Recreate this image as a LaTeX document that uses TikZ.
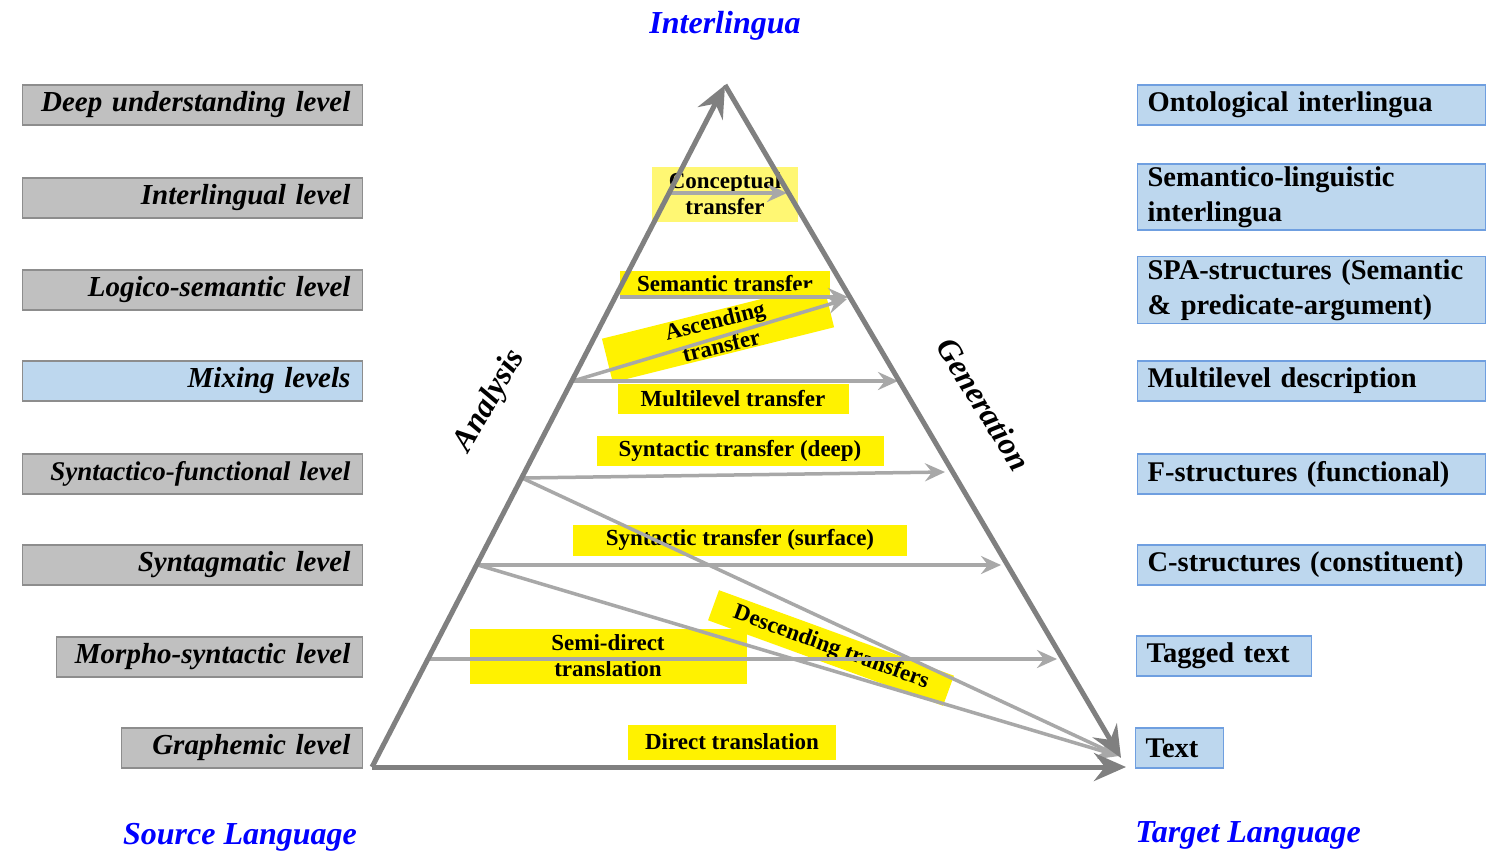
\documentclass[tikz,border=0pt]{standalone}
\usepackage{fontspec}
\setmainfont{Liberation Serif}
\usetikzlibrary{positioning}
\usetikzlibrary{arrows.meta}
\definecolor{lgray}{HTML}{C0C0C0}
\definecolor{lblue}{HTML}{BDD7EE}
\definecolor{bblue}{HTML}{6F9FE0}
\definecolor{pgray}{HTML}{808080}
\definecolor{tgray}{HTML}{A8A8A8}
\definecolor{hblue}{HTML}{0000FF}
\tikzset{
  lvlbox/.style = {draw = pgray!90, fill = lgray, line width = 1.2pt, anchor = east,
    minimum height = 40pt, inner xsep = 12pt, inner ysep = 0pt, text width = 316pt,
    align = right, font = \fontsize{29}{33}\selectfont\bfseries\itshape},
  descbox/.style = {draw = bblue, fill = lblue, line width = 1.2pt, anchor = west,
    minimum height = 40pt, inner xsep = 10pt, inner ysep = 0pt, text width = 328pt,
    align = left, font = \fontsize{28.5}{35}\selectfont\bfseries},
  tagbox/.style = {fill = yellow, inner sep = 0pt, align = center,
    font = \fontsize{23}{26}\selectfont\bfseries},
  sideline/.style = {draw = pgray, line width = 5pt, -{Stealth[length = 32pt, width = 28pt, inset = 11pt]}},
  moveline/.style = {draw = tgray, line width = 3.5pt, -{Stealth[length = 20pt, width = 18pt, inset = 7pt]}},
  headtext/.style = {text = hblue, font = \fontsize{32}{36}\selectfont\bfseries\itshape},
  waytext/.style = {font = \fontsize{32}{36}\selectfont\bfseries\itshape}
}

\begin{document}
\begin{tikzpicture}[x = 1pt, y = -1pt]
  \useasboundingbox [fill = white] (0, 0) rectangle (1487, 857);

  % levels on the source side
  \node [lvlbox] (deep) at (363, 105) {Deep understanding level};
  \node [lvlbox] (inter) at (363, 198) {Interlingual level};
  \node [lvlbox] (logico) at (363, 290) {Logico-semantic level};
  \node [lvlbox, fill = lblue] (mixing) at (363, 381) {Mixing levels};
  \node [lvlbox, font = \fontsize{27}{31}\selectfont\bfseries\itshape] (synfun) at (363, 474) {Syntactico-functional level};
  \node [lvlbox] (syntag) at (363, 565) {Syntagmatic level};
  \node [lvlbox, text width = 282pt] (morpho) at (363, 657) {Morpho-syntactic level};
  \node [lvlbox, text width = 217pt] (graph) at (363, 748) {Graphemic level};

  % descriptions on the target side
  \node [descbox] (onto) at (1137, 105) {Ontological interlingua};
  \node [descbox, minimum height = 66pt] (semling) at (1137, 197) {Semantico-linguistic\\interlingua};
  \node [descbox, minimum height = 67pt] (spa) at (1137, 290) {SPA-structures (Semantic\\\& predicate-argument)};
  \node [descbox] (mdesc) at (1137, 381) {Multilevel description};
  \node [descbox] (fstr) at (1137, 474) {F-structures (functional)};
  \node [descbox] (cstr) at (1137, 565) {C-structures (constituent)};
  \node [descbox, text width = 155pt] (tagged) at (1136, 656) {Tagged text};
  \node [descbox, text width = 68pt] (text) at (1135, 748) {Text};

  \node [headtext] (ilingua) at (725, 26) {Interlingua};
  \node [headtext] (source) at (240, 837) {Source Language};
  \node [headtext] (target) at (1248, 835) {Target Language};
  \node [waytext, rotate = 60] (analysis) at (490, 401) {Analysis};
  \node [waytext, rotate = -58] (generation) at (984, 404) {Generation};

  % transfer labels
  \node [tagbox, fill opacity = 0.55, text opacity = 1, minimum width = 146pt, minimum height = 55pt] (concept) at (725, 194) {Conceptual\\transfer};
  \node [tagbox, minimum width = 210pt, minimum height = 26pt] (sem) at (725, 284) {Semantic transfer};
  \node [tagbox, rotate = 14, minimum width = 228pt, minimum height = 45pt] (asc) at (718, 333) {Ascending\\transfer};
  \node [tagbox, minimum width = 231pt, minimum height = 30pt] (multi) at (733, 399) {Multilevel transfer};
  \node [tagbox, minimum width = 287pt, minimum height = 30pt] (sdeep) at (740, 451) {Syntactic transfer (deep)};
  \node [tagbox, minimum width = 334pt, minimum height = 31pt] (ssurf) at (740, 540) {Syntactic transfer (surface)};
  \node [tagbox, minimum width = 277pt, minimum height = 55pt] (semi) at (608, 656) {Semi-direct\\translation};
  \node [tagbox, rotate = -20, minimum width = 250pt, minimum height = 32pt] (descend) at (831, 648) {Descending transfers};
  \node [tagbox, minimum width = 208pt, minimum height = 35pt] (direct) at (732, 742) {Direct translation};

  % pyramid
  \coordinate (base) at (372, 767);
  \coordinate (apex) at (725, 85);
  \coordinate (rtip) at (1121, 758);
  \coordinate (btip) at (1126, 767);
  \coordinate (c1) at (670, 193);
  \coordinate (c2) at (787, 193);
  \coordinate (s1) at (620, 297);
  \coordinate (s2) at (848, 297);
  \coordinate (m1) at (573, 381);
  \coordinate (m2) at (898, 381);
  \coordinate (d1) at (522, 478);
  \coordinate (d2) at (945, 472);
  \coordinate (f1) at (478, 565);
  \coordinate (f2) at (1001, 565);
  \coordinate (g1) at (428, 659);
  \coordinate (g2) at (1057, 659);
  \coordinate (t1) at (1119, 756);

  \draw [moveline] (c1) -- (c2);
  \draw [moveline] (s1) -- (s2);
  \draw [moveline] (m1) -- (847, 299);
  \draw [moveline] (m1) -- (m2);
  \draw [moveline] (d1) -- (d2);
  \draw [moveline] (f1) -- (f2);
  \draw [moveline] (g1) -- (g2);
  \draw [moveline] (d1) -- (t1);
  \draw [moveline] (f1) -- (t1);

  \draw [sideline] (base) -- (apex);
  \draw [sideline] (apex) -- (rtip);
  \draw [sideline, line join = miter] (base) -- (btip);
\end{tikzpicture}
\end{document}
